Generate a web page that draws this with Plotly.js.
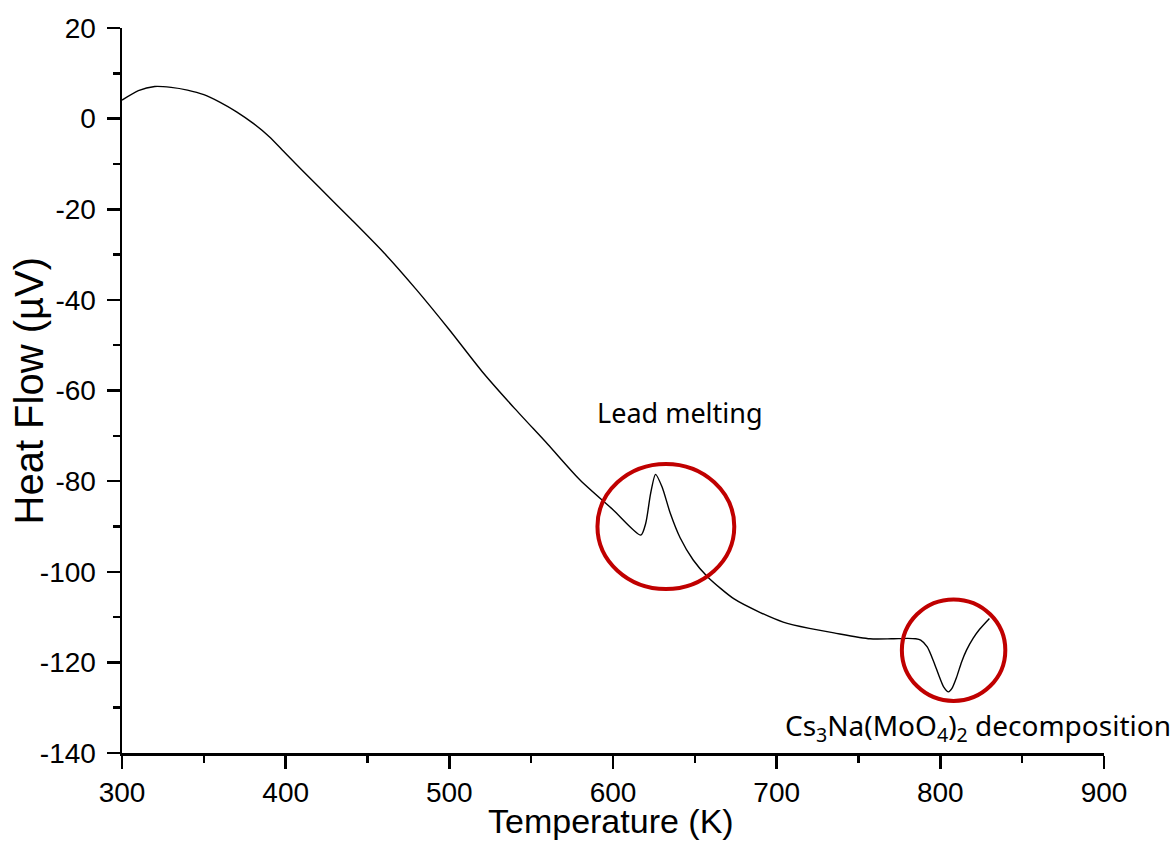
<!DOCTYPE html>
<html>
<head>
<meta charset="utf-8">
<script src="https://cdn.plot.ly/plotly-3.0.1.min.js"></script>
<style>html,body{margin:0;padding:0;background:#fff;}#chart{width:1176px;height:843px;}</style>
</head>
<body>
<div id="chart"></div>
<script>
// Temperature (K)
const temperature = [300, 310, 320, 330, 340, 350, 360, 370, 380, 390, 400, 420, 440, 460, 480, 500, 520, 540, 560, 580, 600, 617, 620, 623, 626, 630, 635, 641, 649, 658, 674, 690, 704, 720, 735, 757, 770, 780, 785, 788, 792, 796, 799, 802, 805, 807, 810, 813, 816, 820, 824, 830];
// Heat Flow (µV)
const heatFlow = [4.1, 6.2, 7.1, 6.9, 6.3, 5.3, 3.6, 1.5, -1.0, -4.0, -7.7, -15.0, -22.2, -29.6, -37.8, -46.6, -55.8, -64.0, -71.8, -79.8, -86.3, -91.9, -89.3, -82.7, -78.5, -81.3, -87.1, -92.5, -97.4, -101.2, -106.0, -109.0, -111.1, -112.5, -113.5, -114.8, -114.8, -114.7, -114.8, -115.1, -116.6, -119.9, -122.8, -125.4, -126.5, -125.8, -123.2, -119.9, -117.3, -114.7, -112.7, -110.3];

const xTickVals = [300, 400, 500, 600, 700, 800, 900];
const yTickVals = [20, 0, -20, -40, -60, -80, -100, -120, -140];

const xTitle = 'Temperature (K)';
const yTitle = 'Heat Flow (µV)';
const annotationTexts = ["Lead melting", "Cs<sub>3</sub>Na(MoO<sub>4</sub>)<sub>2</sub> decomposition"];

const trace = {
  x: temperature,
  y: heatFlow,
  type: 'scatter',
  mode: 'lines',
  line: {color: '#000000', width: 1.4, shape: 'spline', smoothing: 0.7},
  hoverinfo: 'skip'
};

const fam = 'Liberation Sans, Arial, sans-serif';
const annFam = 'Noto Sans, Open Sans, sans-serif';

const layout = {
  width: 1176,
  height: 843,
  margin: {l: 122, r: 72, t: 28, b: 90},
  paper_bgcolor: '#ffffff',
  plot_bgcolor: '#ffffff',
  showlegend: false,
  xaxis: {
    range: [300, 900],
    tickvals: xTickVals,
    ticktext: xTickVals.map(String),
    ticks: 'outside', ticklen: 13, tickwidth: 2.5, tickcolor: '#000',
    minor: {dtick: 50, tick0: 300, ticks: 'outside', ticklen: 7, tickwidth: 2.5, tickcolor: '#000', showgrid: false},
    showline: true, linewidth: 2.5, linecolor: '#000',
    showgrid: false, zeroline: false,
    tickfont: {family: fam, size: 28, color: '#000'},
    automargin: false
  },
  yaxis: {
    range: [-140, 20],
    tickvals: yTickVals,
    ticktext: yTickVals.map(String),
    ticks: 'outside', ticklen: 13, tickwidth: 2.5, tickcolor: '#000',
    minor: {dtick: 10, tick0: 0, ticks: 'outside', ticklen: 7, tickwidth: 2.5, tickcolor: '#000', showgrid: false},
    showline: true, linewidth: 2.5, linecolor: '#000',
    showgrid: false, zeroline: false,
    tickfont: {family: fam, size: 28, color: '#000'},
    ticklabelstandoff: 5,
    automargin: false
  },
  shapes: [
    {type: 'circle', xref: 'x', yref: 'y', x0: 590.5, x1: 674.1, y0: -103.8, y1: -76.2, line: {color: '#C00000', width: 4}},
    {type: 'circle', xref: 'x', yref: 'y', x0: 776.5, x1: 839.7, y0: -128.5, y1: -106.1, line: {color: '#C00000', width: 4}}
  ],
  annotations: [
    {x: 641.0, y: -64.8, xref: 'x', yref: 'y', text: annotationTexts[0], showarrow: false,
     font: {family: annFam, size: 27, color: '#000'}, xanchor: 'center', yanchor: 'middle'},
    {x: 822.8, y: -134.3, xref: 'x', yref: 'y', text: annotationTexts[1], showarrow: false,
     font: {family: annFam, size: 28, color: '#000'}, xanchor: 'center', yanchor: 'middle'},
    {x: 0.498, y: 0, xref: 'paper', yref: 'paper', yshift: -89, text: xTitle, showarrow: false,
     font: {family: fam, size: 34, color: '#000'}, xanchor: 'center', yanchor: 'bottom'},
    {x: 0, y: 0.5, xref: 'paper', yref: 'paper', xshift: -94, text: yTitle, showarrow: false, textangle: -90,
     font: {family: fam, size: 40, color: '#000'}, xanchor: 'center', yanchor: 'middle'}
  ]
};

Plotly.newPlot('chart', [trace], layout, {displayModeBar: false, staticPlot: true});
</script>
</body>
</html>
